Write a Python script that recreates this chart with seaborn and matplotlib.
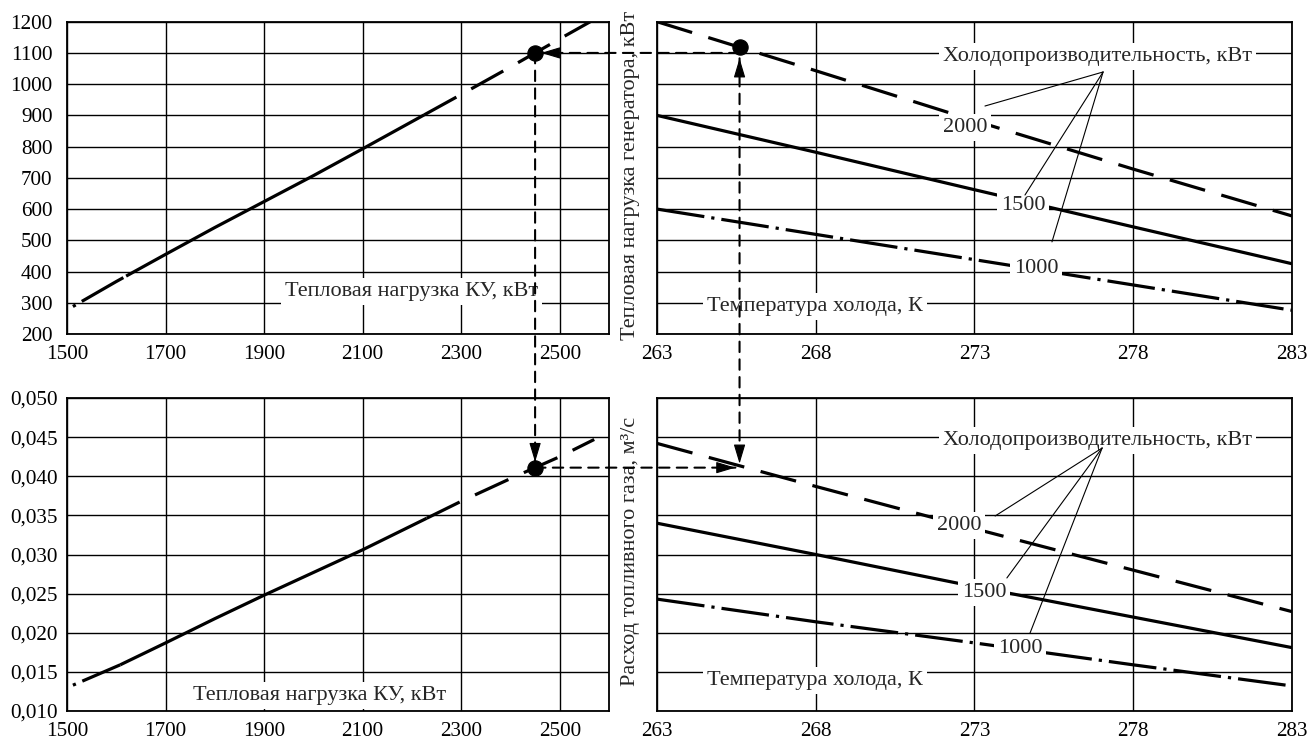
import numpy as np
import matplotlib
matplotlib.use("Agg")
import matplotlib.pyplot as plt
import seaborn as sns
from matplotlib.patches import ConnectionPatch

# ---------------- data ----------------
# top-left: generator heat load vs. heat load of the recovery boiler (КУ)
heat_ku_top = [1512, 1600, 1700, 1800, 1900, 2000, 2100, 2200, 2300, 2400, 2450, 2500, 2562]
gen_load_top = [288, 368, 455, 541, 624, 707, 793, 880, 967, 1055, 1100, 1145, 1200]
top_left_segments = [(1512, 1620, "dashdot"), (1620, 2225, "solid"), (2225, 2562, "dashed")]

# bottom-left: fuel gas flow vs. heat load of КУ
heat_ku_bot = [1512, 1608, 1700, 1800, 1900, 2000, 2100, 2200, 2300, 2400, 2450, 2500, 2570]
gas_flow_bot = [0.0133, 0.0159, 0.0187, 0.0218, 0.0248, 0.0277, 0.0306, 0.0337,
                0.0368, 0.0397, 0.0411, 0.0425, 0.0447]
bot_left_segments = [(1512, 1608, "dashdot"), (1608, 2230, "solid"), (2230, 2570, "dashed")]

# right panels: vs. cold temperature, for three cooling capacities
cold_temp_k = [263, 268, 273, 278, 283]
capacity_labels = ["2000", "1500", "1000"]
capacity_styles = ["dashed", "solid", "dashdot"]
gen_load_by_capacity = [
    [1200, 1043, 883, 728, 578],   # 2000 kW
    [900, 782, 662, 543, 425],     # 1500 kW
    [600, 519, 438, 357, 276],     # 1000 kW
]
gas_flow_by_capacity = [
    [0.0442, 0.0387, 0.0333, 0.0280, 0.0227],
    [0.0340, 0.0300, 0.0259, 0.0220, 0.0181],
    [0.0243, 0.0214, 0.0187, 0.0159, 0.0132],
]

# worked example (operating point)
op_heat_ku = 2450
op_gen_load = 1100
op_gas_flow = 0.0411
op_cold_temp = 265.6

# ticks
left_xticks = [1500, 1700, 1900, 2100, 2300, 2500]
right_xticks = [263, 268, 273, 278, 283]
top_yticks = [200, 300, 400, 500, 600, 700, 800, 900, 1000, 1100, 1200]
bot_yticks = [0.010, 0.015, 0.020, 0.025, 0.030, 0.035, 0.040, 0.045, 0.050]
bot_ytick_labels = ["0,010", "0,015", "0,020", "0,025", "0,030", "0,035", "0,040", "0,045", "0,050"]

# texts
txt_heat_ku = "Тепловая нагрузка КУ, кВт"
txt_cold_temp = "Температура холода, К"
txt_capacity = "Холодопроизводительность, кВт"
txt_gen_load = "Тепловая нагрузка генератора, кВт"
txt_gas_flow = "Расход топливного газа, м³/с"

# ---------------- styling ----------------
sns.set_style("white")
plt.rcParams["font.family"] = ["Liberation Serif", "DejaVu Serif"]

FS = 16
FS_TICK = 15.2
LW = 2.3
STYLES = {
    "solid": "-",
    "dashed": (0, (11.5, 5.3)),
    "dashdot": (0, (15, 2.2, 1, 2.2)),
    "dashdot_start": (17.2, (15, 2.2, 1, 2.2)),
}
GUIDE = (0, (5, 3.5))
GUIDE_LW = 1.5

fig = plt.figure(figsize=(13.12, 7.40), dpi=100)
ax_tl = fig.add_axes([0.05107, 0.54865, 0.41311, 0.42203])
ax_tr = fig.add_axes([0.50076, 0.54865, 0.48399, 0.42203])
ax_bl = fig.add_axes([0.05107, 0.03919, 0.41311, 0.42297])
ax_br = fig.add_axes([0.50076, 0.03919, 0.48399, 0.42297])

for ax in (ax_tl, ax_tr, ax_bl, ax_br):
    ax.set_axisbelow(True)
    ax.grid(True, color="black", lw=1.0)
    for sp in ax.spines.values():
        sp.set_color("black")
        sp.set_linewidth(1.3)
    ax.tick_params(length=0, labelsize=FS_TICK, colors="black")
    ax.tick_params(axis="x", pad=8)
ax_tl.tick_params(axis="y", pad=10.5)
ax_bl.tick_params(axis="y", pad=6.5)


def seg(xs, ys, a, b):
    xs = np.asarray(xs, float)
    ys = np.asarray(ys, float)
    m = (xs > a) & (xs < b)
    sx = np.concatenate([[a], xs[m], [b]])
    return sx, np.interp(sx, xs, ys)


def draw(ax, xs, ys, style):
    sns.lineplot(x=xs, y=ys, ax=ax, color="black", linewidth=LW,
                 linestyle=STYLES[style], zorder=2, solid_capstyle="butt",
                 dash_capstyle="butt")


def label(ax, x, y, s, ha="center"):
    ax.text(x, y, s, fontsize=FS, ha=ha, va="center", zorder=3,
            bbox=dict(boxstyle="square,pad=0.18", fc="white", ec="none"))


def leader(ax, apex, end):
    ax.annotate("", xy=end, xytext=apex,
                arrowprops=dict(arrowstyle="-", lw=0.8, color="black",
                                shrinkA=0, shrinkB=0), zorder=3)


def head(ax, xy, frm, shrink):
    L = 12.5
    dx, dy = frm
    ax.annotate("", xy=xy, xytext=(dx * (L + shrink), dy * (L + shrink)),
                textcoords="offset points", annotation_clip=False, zorder=7,
                arrowprops=dict(arrowstyle="-|>,head_length=0.6,head_width=0.18",
                                mutation_scale=20, fc="black", ec="black", lw=0.8,
                                shrinkA=0, shrinkB=shrink))


# ---------------- top-left ----------------
for a, b, st in top_left_segments:
    sx, sy = seg(heat_ku_top, gen_load_top, a, b)
    draw(ax_tl, sx, sy, "dashdot_start" if st == "dashdot" else st)
ax_tl.set_xlim(1500, 2600)
ax_tl.set_ylim(200, 1200)
ax_tl.set_xticks(left_xticks)
ax_tl.set_yticks(top_yticks)
label(ax_tl, 2200, 335, txt_heat_ku)

# ---------------- bottom-left ----------------
for a, b, st in bot_left_segments:
    sx, sy = seg(heat_ku_bot, gas_flow_bot, a, b)
    draw(ax_bl, sx, sy, "dashdot_start" if st == "dashdot" else st)
ax_bl.set_xlim(1500, 2600)
ax_bl.set_ylim(0.010, 0.050)
ax_bl.set_xticks(left_xticks)
ax_bl.set_yticks(bot_yticks)
ax_bl.set_yticklabels(bot_ytick_labels)
label(ax_bl, 2013, 0.01204, txt_heat_ku)

# ---------------- top-right ----------------
for vals, st in zip(gen_load_by_capacity, capacity_styles):
    draw(ax_tr, cold_temp_k, vals, st)
ax_tr.set_xlim(263, 283)
ax_tr.set_ylim(200, 1200)
ax_tr.set_xticks(right_xticks)
ax_tr.set_yticks(top_yticks)
ax_tr.tick_params(axis="y", labelleft=False)
label(ax_tr, 276.86, 1090, txt_capacity)
label(ax_tr, 267.98, 288, txt_cold_temp)
for (lx, ly), s in zip([(272.7, 860), (274.53, 613), (274.94, 411)], capacity_labels):
    label(ax_tr, lx, ly, s)
for end in [(273.33, 930), (274.59, 645), (275.44, 495)]:
    leader(ax_tr, (277.05, 1039), end)

# ---------------- bottom-right ----------------
for vals, st in zip(gas_flow_by_capacity, capacity_styles):
    draw(ax_br, cold_temp_k, vals, st)
ax_br.set_xlim(263, 283)
ax_br.set_ylim(0.010, 0.050)
ax_br.set_xticks(right_xticks)
ax_br.set_yticks(bot_yticks)
ax_br.tick_params(axis="y", labelleft=False)
label(ax_br, 276.86, 0.04463, txt_capacity)
label(ax_br, 267.98, 0.01396, txt_cold_temp)
for (lx, ly), s in zip([(272.51, 0.03377), (273.3, 0.02508), (274.43, 0.01805)], capacity_labels):
    label(ax_br, lx, ly, s)
for end in [(273.65, 0.03492), (274.02, 0.0270), (274.75, 0.01997)]:
    leader(ax_br, (277.02, 0.04361), end)

# y labels of the right panels
fig.text(0.4802, 0.7635, txt_gen_load, rotation=90, ha="center", va="center", fontsize=FS)
fig.text(0.4802, 0.2554, txt_gas_flow, rotation=90, ha="center", va="center", fontsize=FS)

# ---------------- worked example ----------------
y_tr = float(np.interp(op_cold_temp, cold_temp_k, gen_load_by_capacity[0]))
y_br = float(np.interp(op_cold_temp, cold_temp_k, gas_flow_by_capacity[0]))

sns.scatterplot(x=[op_heat_ku], y=[op_gen_load], ax=ax_tl, color="black", s=120,
                edgecolor="black", zorder=6, clip_on=False)
sns.scatterplot(x=[op_heat_ku], y=[op_gas_flow], ax=ax_bl, color="black", s=120,
                edgecolor="black", zorder=6, clip_on=False)
sns.scatterplot(x=[op_cold_temp], y=[y_tr], ax=ax_tr, color="black", s=120,
                edgecolor="black", zorder=6, clip_on=False)

guides = [
    (ax_tr, (op_cold_temp, op_gen_load), ax_tl, (op_heat_ku, op_gen_load), 0, 4.3),
    (ax_tl, (op_heat_ku, op_gen_load), ax_bl, (op_heat_ku, op_gas_flow), 0, 4.0),
    (ax_bl, (op_heat_ku, op_gas_flow), ax_br, (op_cold_temp, op_gas_flow), 0, 3.0),
    (ax_tr, (op_cold_temp, y_tr), ax_br, (op_cold_temp, y_br), 8.0, 1.5),
]
for axA, pA, axB, pB, sA, sB in guides:
    con = ConnectionPatch(xyA=pA, coordsA=axA.transData, xyB=pB, coordsB=axB.transData,
                          arrowstyle="-", linestyle=GUIDE, lw=GUIDE_LW, color="black",
                          shrinkA=sA, shrinkB=sB, zorder=5)
    fig.add_artist(con)

head(ax_tl, (op_heat_ku, op_gen_load), (1, 0), 4.3)
head(ax_bl, (op_heat_ku, op_gas_flow), (0, 1), 4.0)
head(ax_br, (op_cold_temp, op_gas_flow), (-1, 0), 3.0)
head(ax_br, (op_cold_temp, y_br), (0, 1), 1.5)
head(ax_tr, (op_cold_temp, y_tr), (0, -1), 8.0)

for ax in (ax_tl, ax_tr, ax_bl, ax_br):
    ax.set_xlabel("")
    ax.set_ylabel("")

fig.savefig("out.png", dpi=100)
